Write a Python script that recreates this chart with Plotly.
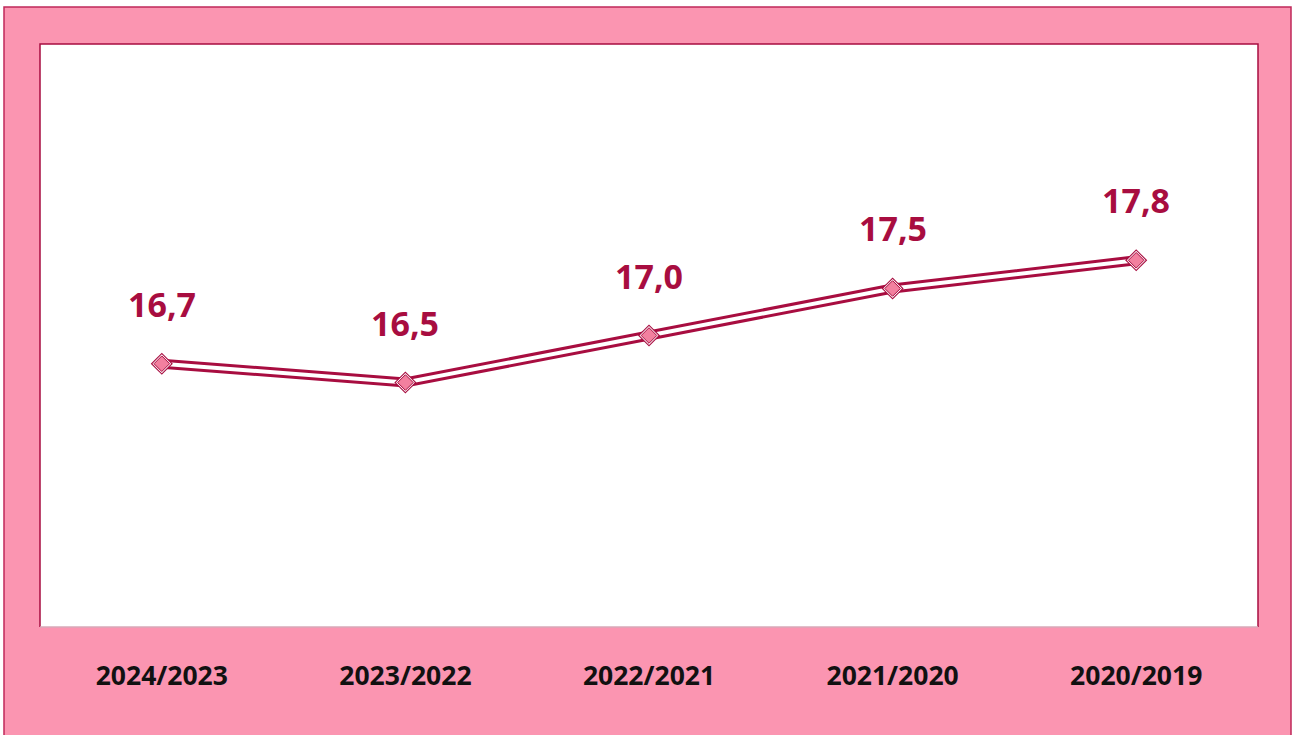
import plotly.graph_objects as go

categories = ["2024/2023", "2023/2022", "2022/2021", "2021/2020", "2020/2019"]
values = [16.7, 16.5, 17.0, 17.5, 17.8]
labels = ["16,7", "16,5", "17,0", "17,5", "17,8"]

DARK = "#A80D40"
PINK = "#FB95B1"
MARK = "#F2809F"

W, H = 1296, 735
L, R, T, B = 40, 1258, 44, 627


def px_x(px):
    return (px - L) / (R - L)


def px_y(py):
    return (B - py) / (B - T)


fig = go.Figure()

fig.add_trace(go.Scatter(x=categories, y=values, mode="lines",
                         line=dict(color=DARK, width=10), hoverinfo="skip"))
fig.add_trace(go.Scatter(x=categories, y=values, mode="lines",
                         line=dict(color="white", width=4), hoverinfo="skip"))
fig.add_trace(go.Scatter(x=categories, y=values, mode="markers",
                         marker=dict(symbol="diamond", size=17, color=DARK,
                                     line=dict(width=0)), hoverinfo="skip"))
fig.add_trace(go.Scatter(x=categories, y=values, mode="markers",
                         marker=dict(symbol="diamond", size=14.5, color="white",
                                     line=dict(width=0)), hoverinfo="skip"))
fig.add_trace(go.Scatter(x=categories, y=values, mode="markers",
                         marker=dict(symbol="diamond", size=12, color=MARK,
                                     line=dict(width=1, color=DARK))))

for c, v, t in zip(categories, values, labels):
    fig.add_annotation(x=c, y=v, text=t, showarrow=False, yshift=60,
                       font=dict(family="Noto Sans", size=34, color=DARK, weight="bold"))

shapes = [
    dict(type="rect", xref="paper", yref="paper", layer="below",
         x0=px_x(4), x1=px_x(1291), y0=px_y(745), y1=px_y(7),
         fillcolor=PINK, line=dict(color="#C0285A", width=1.5)),
    dict(type="rect", xref="paper", yref="paper", layer="below",
         x0=0, x1=1, y0=0, y1=1, fillcolor="white", line=dict(width=0)),
    dict(type="path", xref="paper", yref="paper", layer="below",
         path="M 0 0 L 0 1 L 1 1 L 1 0",
         line=dict(color=DARK, width=1.5)),
    dict(type="line", xref="paper", yref="paper", layer="below",
         x0=0, x1=1, y0=0, y1=0, line=dict(color="#D9A9B9", width=1.5)),
]

fig.update_layout(
    width=W, height=H,
    margin=dict(l=L, r=W - R, t=T, b=H - B),
    paper_bgcolor="white",
    plot_bgcolor="rgba(0,0,0,0)",
    showlegend=False,
    shapes=shapes,
    xaxis=dict(type="category", range=[-0.5, 4.5], showgrid=False, zeroline=False,
               showline=False, ticks="", ticklabelstandoff=30,
               tickfont=dict(family="Noto Sans", size=26.5, color="#111111", weight="bold")),
    yaxis=dict(range=[13.9, 20.1], visible=False, showgrid=False, zeroline=False),
)

fig.write_html("out.html", config={"displayModeBar": False})

with open("out.html", "r", encoding="utf-8") as f:
    html = f.read()
html = html.replace("<body>", '<body style="margin:0;overflow:hidden">', 1)
with open("out.html", "w", encoding="utf-8") as f:
    f.write(html)
